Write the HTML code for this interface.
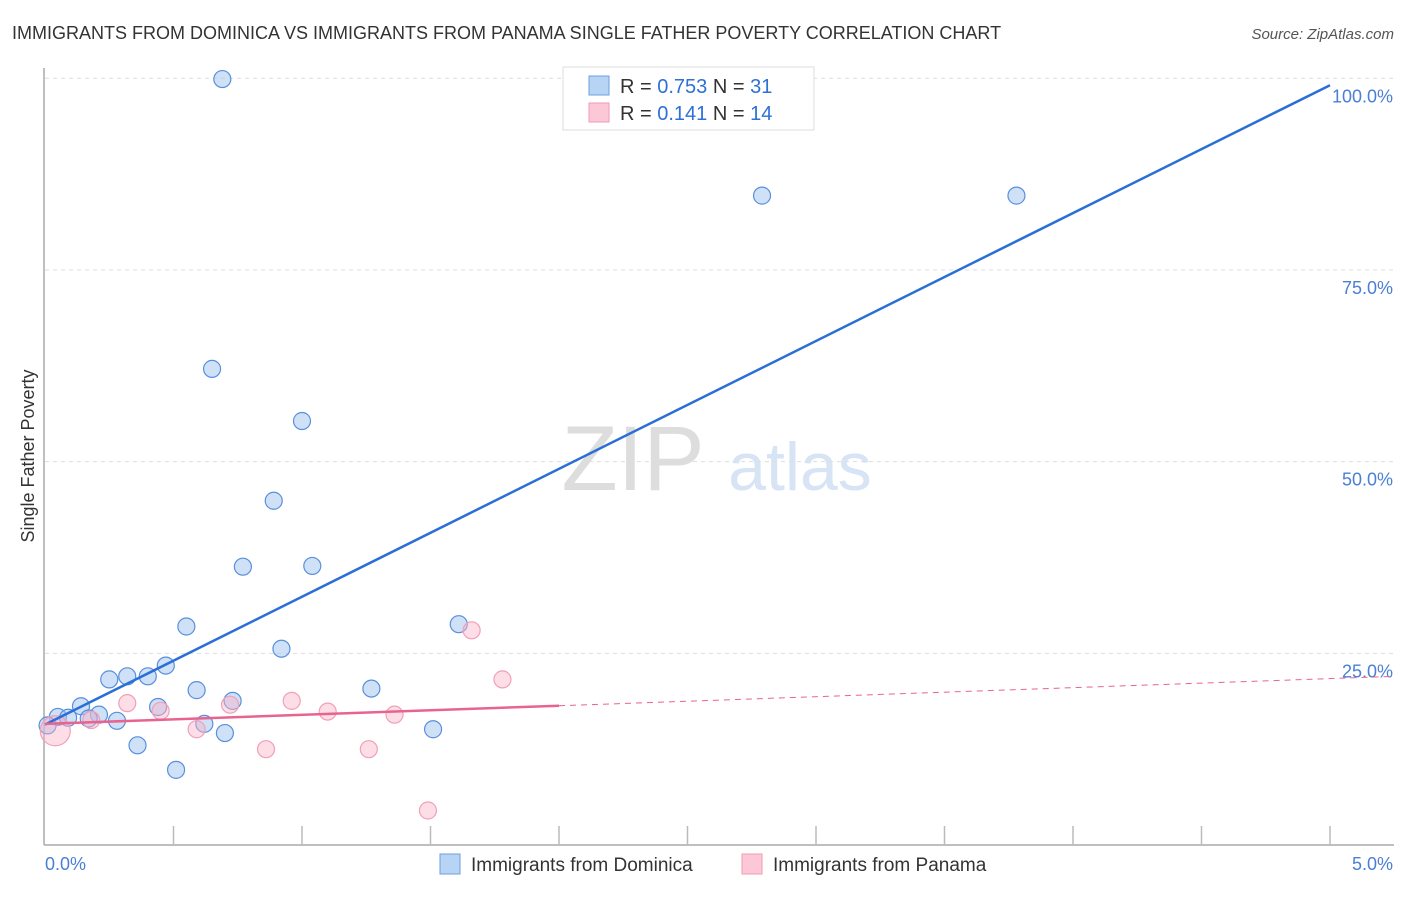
<!DOCTYPE html>
<html><head><meta charset="utf-8"><style>
body{margin:0;background:#fff;font-family:"Liberation Sans",sans-serif;}
svg text{font-family:"Liberation Sans",sans-serif;}
</style></head><body>
<svg id="c" width="1406" height="892" xmlns="http://www.w3.org/2000/svg">
<text x="12" y="39" font-size="18" fill="#333">IMMIGRANTS FROM DOMINICA VS IMMIGRANTS FROM PANAMA SINGLE FATHER POVERTY CORRELATION CHART</text>
<text x="1394" y="39" font-size="15" fill="#555" font-style="italic" text-anchor="end">Source: ZipAtlas.com</text>
<text x="633" y="490" font-size="92" fill="#ddd" font-family="Liberation Serif" text-anchor="middle">ZIP</text>
<text x="800" y="490" font-size="68" fill="#d6e4f5" text-anchor="middle">atlas</text>
<text x="34" y="456" font-size="18" fill="#333" text-anchor="middle" transform="rotate(-90 34 456)">Single Father Poverty</text>
<g id="grid"></g><g id="axes"></g><g id="pts"></g><g id="lines"></g>
<g>
<rect x="563" y="67" width="251" height="63" fill="#fff" stroke="#ddd"/>
<rect x="589" y="76" width="20" height="19" fill="#b8d4f5" stroke="#6a9fe0"/>
<text x="620" y="93" font-size="20" fill="#333">R = <tspan fill="#2e6fd8">0.753</tspan>   N = <tspan fill="#2e6fd8">31</tspan></text>
<rect x="589" y="103" width="20" height="19" fill="#fcc8d8" stroke="#f09ab5"/>
<text x="620" y="120" font-size="20" fill="#333">R =  <tspan fill="#2e6fd8">0.141</tspan>   N = <tspan fill="#2e6fd8">14</tspan></text>
</g>
<g>
<rect x="440" y="854" width="20" height="20" fill="#b8d4f5" stroke="#6a9fe0"/>
<text x="471" y="871" font-size="19" fill="#333">Immigrants from Dominica</text>
<rect x="742" y="854" width="20" height="20" fill="#fcc8d8" stroke="#f09ab5"/>
<text x="773" y="871" font-size="19" fill="#333">Immigrants from Panama</text>
</g>
</svg>
<script>
const yTicks=[25,50,75,100];
const xTickLabels=["0.0%","5.0%"];
const domX=[0.69,2.79,3.78,0.65,1.0,0.89,0.77,1.04,0.55,1.61,0.92,0.47,0.25,0.32,0.40,0.59,0.73,1.27,0.44,0.14,0.05,0.09,0.21,0.28,0.62,0.70,1.51,0.36,0.51,0.01,0.17];
const domY=[99.9,84.7,84.7,62.1,55.3,44.9,36.3,36.4,28.5,28.8,25.6,23.4,21.6,22.0,22.0,20.2,18.8,20.4,18.0,18.1,16.7,16.6,17.0,16.2,15.8,14.6,15.1,13.0,9.8,15.6,16.5];
const panX=[0.04,0.18,0.32,0.45,0.59,0.72,0.96,1.10,1.36,0.86,1.26,1.66,1.78,1.49];
const panY=[14.9,16.3,18.5,17.5,15.1,18.3,18.8,17.4,17.0,12.5,12.5,28.0,21.6,4.5];
const domFit=[15.7,99.1], panFit=[15.8,22.0];
const X=v=>45+v*257, Y=v=>845-v*7.667;
const NS="http://www.w3.org/2000/svg";
function mk(tag,parent,attrs){const e=document.createElementNS(NS,tag);for(const k in attrs)e.setAttribute(k,attrs[k]);document.getElementById(parent).appendChild(e);return e;}
yTicks.forEach(t=>{
 const l=mk('line','grid',{x1:45,x2:1394,y1:Y(t),y2:Y(t),stroke:'#ddd','stroke-dasharray':'4,4'});
 
 
 const tx=mk('text','grid',{x:1393,y:Y(t)+24,'font-size':18,fill:'#4a7fd4','text-anchor':'end'});
 tx.textContent=t.toFixed(1)+'%';
 
 
});
mk('line','axes',{x1:44,x2:44,y1:68,y2:845,stroke:'#aaa','stroke-width':1.5});
mk('line','axes',{x1:44,x2:1394,y1:845,y2:845,stroke:'#aaa','stroke-width':1.5});
for(let i=1;i<=10;i++){const t=mk('line','axes',{x1:X(i*0.5),x2:X(i*0.5),y1:826,y2:845,stroke:'#bbb','stroke-width':1.5});
 
 }
xTickLabels.forEach((s,i)=>{const t=mk('text','axes',{x:i?1393:45,y:870,'font-size':18,fill:'#4a7fd4','text-anchor':i?'end':'start'});t.textContent=s;
 
 });
domX.forEach((x,i)=>{const c=mk('circle','pts',{cx:X(x),cy:Y(domY[i]),r:8.5,fill:'rgba(160,196,240,0.5)',stroke:'#5a8fdc','stroke-width':1.2});
 
 });
panX.forEach((x,i)=>{const c=mk('circle','pts',{cx:X(x),cy:Y(panY[i]),r:i==0?15:8.5,fill:'rgba(250,180,200,0.45)',stroke:'#f0a0b8','stroke-width':1.2});
 
 });
const b=mk('line','lines',{x1:X(0),y1:Y(domFit[0]),x2:X(5),y2:Y(domFit[1]),stroke:'#2a6fd6','stroke-width':2.5});


const pv=x=>panFit[0]+(panFit[1]-panFit[0])*x/5.25;
const p1=mk('line','lines',{x1:X(0),y1:Y(pv(0)),x2:X(2),y2:Y(pv(2)),stroke:'#e8648e','stroke-width':2.5});


const p2=mk('line','lines',{x1:X(2),y1:Y(pv(2)),x2:X(5.25),y2:Y(pv(5.25)),stroke:'#e8648e','stroke-width':1,'stroke-dasharray':'6,5'});


</script>
</body></html>
